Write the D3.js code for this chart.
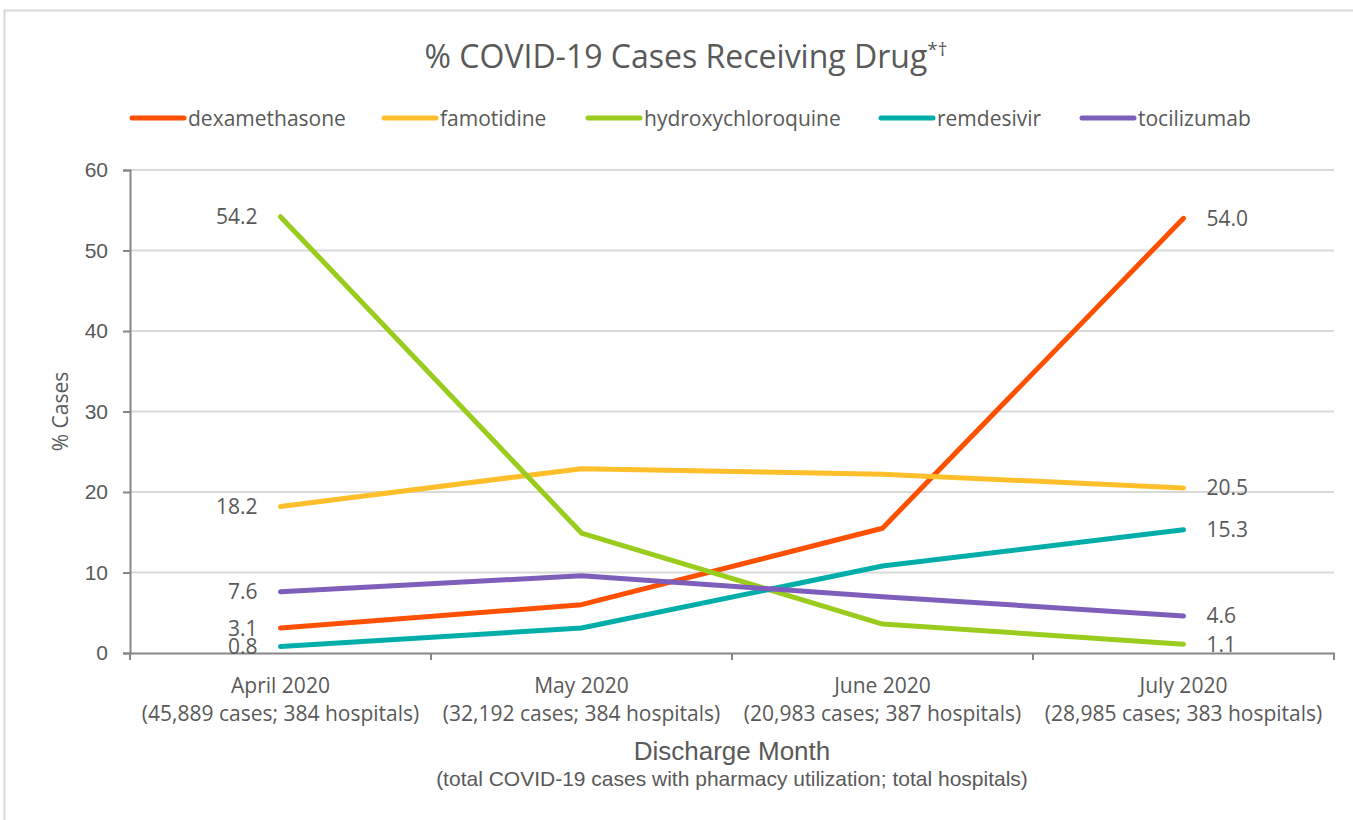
<!DOCTYPE html>
<html>
<head>
<meta charset="utf-8">
<script src="https://cdn.jsdelivr.net/npm/d3@7"></script>
<style>
  body { margin: 0; background: #fff; }
  text { fill: #595959; }
</style>
</head>
<body>
<div id="chart"></div>
<script>
// months along the x axis, with the case / hospital counts underneath
const months = ['April 2020', 'May 2020', 'June 2020', 'July 2020'];
const monthNotes = ['(45,889 cases; 384 hospitals)', '(32,192 cases; 384 hospitals)',
  '(20,983 cases; 387 hospitals)', '(28,985 cases; 383 hospitals)'];

const drugs = ['dexamethasone', 'famotidine', 'hydroxychloroquine', 'remdesivir', 'tocilizumab'];
const drugColors = ['#ff5000', '#ffbf2b', '#99cc1c', '#00aea9', '#7e5eba'];

// % of cases per month
const dexamethasone = [3.1, 6.0, 15.5, 54.0];
const famotidine = [18.2, 22.9, 22.2, 20.5];
const hydroxychloroquine = [54.2, 14.9, 3.6, 1.1];
const remdesivir = [0.8, 3.1, 10.8, 15.3];
const tocilizumab = [7.6, 9.6, 7.0, 4.6];

const yTicks = [0, 10, 20, 30, 40, 50, 60];

const series = [dexamethasone, famotidine, hydroxychloroquine, remdesivir, tocilizumab]
  .map((values, i) => ({ name: drugs[i], color: drugColors[i], values: values }));

const width = 1353, height = 820;
const margin = { top: 170, left: 130, right: 19, bottom: 167 };

const svg = d3.select('#chart')
  .append('svg')
  .attr('width', width)
  .attr('height', height)
  .style('font-family', 'Open Sans, sans-serif');

// outer chart border
svg.append('rect')
  .attr('x', 4.5).attr('y', 10.5)
  .attr('width', width + 10).attr('height', height)
  .attr('fill', 'none')
  .attr('stroke', '#d9d9d9')
  .attr('stroke-width', 2);

const x = d3.scaleBand()
  .domain(months)
  .range([margin.left, width - margin.right]);

const y = d3.scaleLinear()
  .domain([0, 60])
  .range([height - margin.bottom, margin.top]);

// gridlines
svg.append('g')
  .selectAll('line')
  .data(yTicks.filter(d => d > 0))
  .enter()
  .append('line')
    .attr('x1', margin.left).attr('x2', width - margin.right)
    .attr('y1', d => y(d)).attr('y2', d => y(d))
    .attr('stroke', '#d9d9d9')
    .attr('stroke-width', 2);

// y axis
const yAxis = svg.append('g')
  .attr('transform', `translate(${margin.left},0)`)
  .call(d3.axisLeft(y).tickValues(yTicks).tickSize(7).tickPadding(15));
yAxis.selectAll('text').style('font-size', '21px').attr('fill', '#595959');

// x axis, ticks on band boundaries
const xAxis = svg.append('g')
  .attr('transform', `translate(0,${y(0)})`)
  .call(d3.axisBottom(x).tickSize(0).tickFormat(''));
xAxis.selectAll('.tick').remove();
xAxis.append('g')
  .selectAll('line')
  .data(months.concat(['end']))
  .enter()
  .append('line')
    .attr('x1', (d, i) => margin.left + i * x.step())
    .attr('x2', (d, i) => margin.left + i * x.step())
    .attr('y1', 0).attr('y2', 7)
    .attr('stroke', '#868686')
    .attr('stroke-width', 2);

svg.selectAll('.domain').attr('stroke', '#868686').attr('stroke-width', 2);
svg.selectAll('.tick line').attr('stroke', '#868686').attr('stroke-width', 2);

// category labels
const catLabels = svg.append('g')
  .selectAll('text')
  .data(months)
  .enter()
  .append('text')
    .attr('text-anchor', 'middle')
    .style('font-size', '21px');
catLabels.append('tspan')
  .attr('x', d => x(d) + x.bandwidth() / 2)
  .attr('y', y(0) + 40)
  .text(d => d);
catLabels.append('tspan')
  .attr('x', d => x(d) + x.bandwidth() / 2)
  .attr('y', y(0) + 68)
  .text((d, i) => monthNotes[i]);

// lines
const line = d3.line()
  .x((d, i) => x(months[i]) + x.bandwidth() / 2)
  .y(d => y(d));

svg.append('g')
  .selectAll('path')
  .data(series)
  .enter()
  .append('path')
    .attr('d', d => line(d.values))
    .attr('fill', 'none')
    .attr('stroke', d => d.color)
    .attr('stroke-width', 5)
    .attr('stroke-linecap', 'round')
    .attr('stroke-linejoin', 'round');

// value labels at first and last points
const firstX = x(months[0]) + x.bandwidth() / 2;
const lastX = x(months[3]) + x.bandwidth() / 2;
svg.append('g')
  .selectAll('text')
  .data(series)
  .enter()
  .append('text')
    .attr('x', firstX - 23)
    .attr('y', d => y(d.values[0]) + 7.5)
    .attr('text-anchor', 'end')
    .style('font-size', '21px')
    .attr('fill', '#404040')
    .text(d => d.values[0].toFixed(1));
svg.append('g')
  .selectAll('text')
  .data(series)
  .enter()
  .append('text')
    .attr('x', lastX + 23)
    .attr('y', d => y(d.values[3]) + 7.5)
    .style('font-size', '21px')
    .attr('fill', '#404040')
    .text(d => d.values[3].toFixed(1));

// title
const title = svg.append('text')
  .attr('x', 686)
  .attr('y', 68)
  .attr('text-anchor', 'middle')
  .style('font-size', '32px');
title.append('tspan').text('% COVID-19 Cases Receiving Drug');
title.append('tspan').attr('dy', -12).style('font-size', '19px').text('*†');

// legend
const legendX = [130, 382, 586, 879, 1080];
const legend = svg.append('g')
  .selectAll('g')
  .data(series)
  .enter()
  .append('g')
    .attr('transform', (d, i) => `translate(${legendX[i]},118)`);
legend.append('line')
  .attr('x1', 2).attr('x2', 54)
  .attr('stroke', d => d.color)
  .attr('stroke-width', 5)
  .attr('stroke-linecap', 'round');
legend.append('text')
  .attr('x', 58)
  .attr('y', 7.5)
  .style('font-size', '21px')
  .text(d => d.name);

// axis titles
svg.append('text')
  .attr('transform', `translate(68,${(y(0) + y(60)) / 2}) rotate(-90)`)
  .attr('text-anchor', 'middle')
  .style('font-size', '21px')
  .text('% Cases');

svg.append('text')
  .attr('x', 732)
  .attr('y', 760)
  .attr('text-anchor', 'middle')
  .style('font-family', 'Liberation Sans, Arial, sans-serif')
  .style('font-size', '26px')
  .text('Discharge Month');
svg.append('text')
  .attr('x', 732)
  .attr('y', 786)
  .attr('text-anchor', 'middle')
  .style('font-family', 'Liberation Sans, Arial, sans-serif')
  .style('font-size', '21px')
  .text('(total COVID-19 cases with pharmacy utilization; total hospitals)');
</script>
</body>
</html>
